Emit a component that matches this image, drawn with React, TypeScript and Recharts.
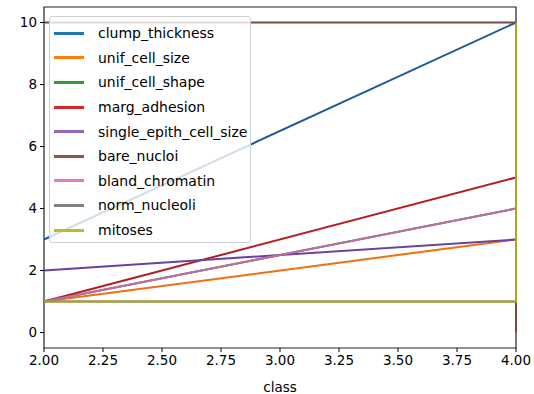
import {
  LineChart,
  Line,
  XAxis,
  YAxis,
  Legend,
  ReferenceArea,
} from "recharts";

const classes = [2, 4, 4];

const clumpThickness = [3, 10, 10];
const unifCellSize = [1, 3, 3];
const unifCellShape = [1, 4, 4];
const margAdhesion = [1, 5, 5];
const singleEpithCellSize = [2, 3, 3];
const bareNucloi = [10, 10, 0];
const blandChromatin = [1, 4, 4];
const normNucleoli = [1, 1, 1];
const mitoses = [1, 1, 10];

const xTicks = [2, 2.25, 2.5, 2.75, 3, 3.25, 3.5, 3.75, 4];
const yTicks = [0, 2, 4, 6, 8, 10];

// legend swatch colour, and a slightly deeper stroke for the plotted line
const series = [
  { name: "clump_thickness", values: clumpThickness, color: "#1f77b4", stroke: "#1b5a96" },
  { name: "unif_cell_size", values: unifCellSize, color: "#ff7f0e", stroke: "#ef7010" },
  { name: "unif_cell_shape", values: unifCellShape, color: "#2ca02c", stroke: "#2a8a2a" },
  { name: "marg_adhesion", values: margAdhesion, color: "#d62728", stroke: "#b41c1e" },
  { name: "single_epith_cell_size", values: singleEpithCellSize, color: "#9467bd", stroke: "#6a40a0" },
  { name: "bare_nucloi", values: bareNucloi, color: "#8c564b", stroke: "#7a4a42" },
  { name: "bland_chromatin", values: blandChromatin, color: "#e377c2", stroke: "#c46aa8" },
  { name: "norm_nucleoli", values: normNucleoli, color: "#7f7f7f", stroke: "#707070" },
  { name: "mitoses", values: mitoses, color: "#bcbd22", stroke: "#a8a81e" },
];

const FONT = "'DejaVu Sans', sans-serif";

function LegendBox() {
  return (
    <div
      style={{
        width: 202,
        height: 227,
        boxSizing: "border-box",
        background: "rgba(255,255,255,0.8)",
        border: "1px solid #d0d0d0",
        borderRadius: 3,
        padding: "4px 0 0 4px",
        fontFamily: FONT,
        fontSize: 14,
        color: "#000",
      }}
    >
      {series.map((s) => (
        <div key={s.name} style={{ display: "flex", alignItems: "center", height: 24.6 }}>
          <div style={{ width: 30, height: 3, background: s.color, marginRight: 14 }} />
          <span>{s.name}</span>
        </div>
      ))}
    </div>
  );
}

export default function App() {
  return (
    <div style={{ position: "absolute", left: 0, top: 0, background: "#fff" }}>
      <LineChart
        width={534}
        height={394}
        margin={{ top: 7, right: 18, bottom: 0, left: 0 }}
        style={{ fontFamily: FONT }}
      >
        <XAxis
          type="number"
          dataKey="class"
          domain={[2, 4]}
          ticks={xTicks}
          tickFormatter={(v: number) => v.toFixed(2)}
          allowDuplicatedCategory={false}
          height={46}
          tickSize={4}
          tickMargin={3}
          axisLine={false}
          tickLine={{ stroke: "#000" }}
          tick={{ fill: "#000", fontSize: 13.5, fontFamily: FONT }}
          label={{
            value: "class",
            position: "insideBottom",
            offset: 2,
            fill: "#000",
            fontSize: 13.5,
            fontFamily: FONT,
          }}
        />
        <YAxis
          type="number"
          domain={[-0.5, 10.5]}
          ticks={yTicks}
          width={44}
          tickSize={4}
          tickMargin={3}
          axisLine={false}
          tickLine={{ stroke: "#000" }}
          tick={{ fill: "#000", fontSize: 13.5, fontFamily: FONT }}
        />
        <ReferenceArea
          x1={2}
          x2={4}
          y1={-0.5}
          y2={10.5}
          fill="none"
          stroke="#222"
          strokeWidth={1.2}
          fillOpacity={0}
        />
        {series.map((s) => (
          <Line
            key={s.name}
            name={s.name}
            data={classes.map((c, i) => ({ class: c, value: s.values[i] }))}
            dataKey="value"
            type="linear"
            stroke={s.stroke}
            strokeWidth={2}
            dot={false}
            activeDot={false}
            isAnimationActive={false}
          />
        ))}
        <Legend
          layout="vertical"
          align="center"
          verticalAlign="middle"
          content={() => <LegendBox />}
          wrapperStyle={{ position: "absolute", left: 49, top: 16, width: 202 }}
        />
      </LineChart>
    </div>
  );
}
